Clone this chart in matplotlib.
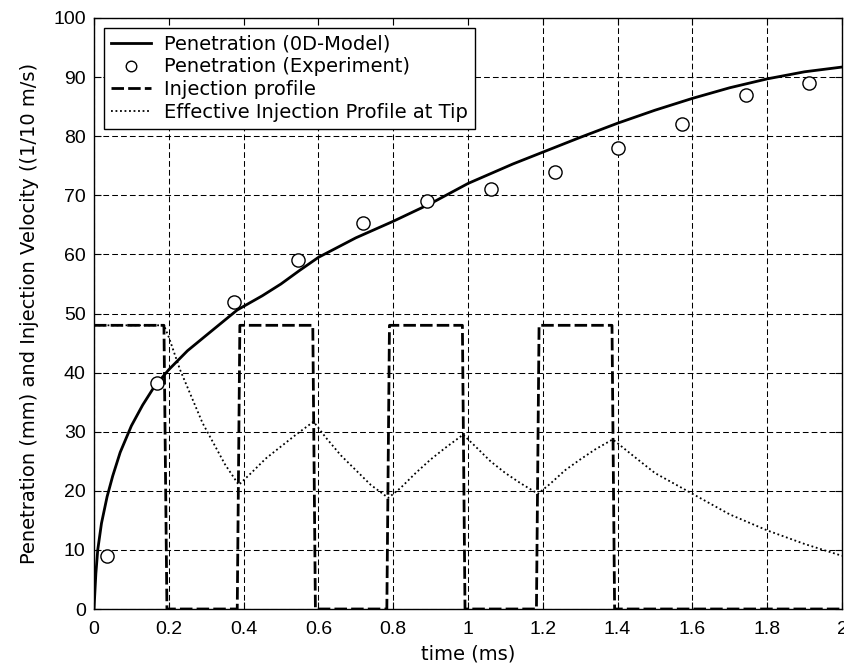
import matplotlib
matplotlib.use('Agg')
import matplotlib.pyplot as plt

plt.rcParams['font.family'] = ['DejaVu Sans']

# penetration, 0D model
model_t = [0, 0.005, 0.01, 0.02, 0.035, 0.05, 0.07, 0.1, 0.13, 0.16, 0.2, 0.25, 0.3, 0.383, 0.45,
           0.5, 0.55, 0.6, 0.7, 0.8, 0.9, 1.0, 1.12, 1.2, 1.3, 1.4, 1.5, 1.6, 1.7, 1.8, 1.9, 2.0]
model_v = [0, 6, 10, 14.5, 19, 22.5, 26.5, 31, 34.5, 37.5, 40.5, 43.7, 46.3, 50.6, 53,
           55, 57.3, 59.5, 62.8, 65.6, 68.6, 72, 75.3, 77.3, 79.8, 82.2, 84.4, 86.4, 88.2, 89.7, 90.9, 91.7]

# penetration, experiment
exp_t = [0.034, 0.168, 0.374, 0.545, 0.72, 0.891, 1.061, 1.232, 1.402, 1.572, 1.742, 1.912]
exp_v = [9, 38.2, 52, 59.1, 65.3, 69.1, 71, 74, 78, 82, 87, 89]

# injection profile
inj_t = [0, 0.187, 0.195, 0.383, 0.39, 0.585, 0.592, 0.783, 0.79, 0.985, 0.992, 1.183, 1.19, 1.385, 1.392, 2.0]
inj_v = [48, 48, 0, 0, 48, 48, 0, 0, 48, 48, 0, 0, 48, 48, 0, 0]

# effective injection profile at tip
eff_t = [0, 0.187, 0.2, 0.23, 0.26, 0.29, 0.32, 0.35, 0.387, 0.42, 0.46, 0.5, 0.54, 0.587,
         0.62, 0.66, 0.7, 0.74, 0.787, 0.82, 0.86, 0.9, 0.94, 0.987, 1.02, 1.06, 1.1, 1.14, 1.187,
         1.22, 1.26, 1.3, 1.34, 1.387, 1.45, 1.5, 1.6, 1.7, 1.8, 1.9, 2.0]
eff_v = [48, 48, 46, 40.5, 36, 31.5, 28, 24.5, 21, 23, 25.5, 27.5, 29.5, 31.7,
         29, 26, 23.5, 21, 18.8, 20.5, 23, 25.3, 27.3, 29.5, 27.5, 25, 23, 21.3, 19.5,
         21.2, 23.5, 25.3, 27, 28.7, 25.5, 23, 19.5, 16, 13.3, 11, 9]

xticks = [0, 0.2, 0.4, 0.6, 0.8, 1, 1.2, 1.4, 1.6, 1.8, 2]
xlabels = ['0', '0.2', '0.4', '0.6', '0.8', '1', '1.2', '1.4', '1.6', '1.8', '2']
yticks = list(range(0, 101, 10))

fig = plt.figure(figsize=(8.44, 6.70), dpi=100)
ax = fig.add_axes([94 / 844, 61 / 670, 748 / 844, 591 / 670])

ax.plot(model_t, model_v, color='black', lw=2, label='Penetration (0D-Model)')
ax.plot(exp_t, exp_v, 'o', mfc='white', mec='black', mew=1.0, ms=9.5, label='Penetration (Experiment)')
ax.plot(inj_t, inj_v, color='black', lw=2, ls=(0, (4.5, 1.5)), label='Injection profile')
ax.plot(eff_t, eff_v, color='black', lw=1.3, ls=(0, (1, 1.5)), label='Effective Injection Profile at Tip')

ax.set_xlim(0, 2)
ax.set_ylim(0, 100)
ax.set_xticks(xticks)
ax.set_xticklabels(xlabels)
ax.set_yticks(yticks)
ax.tick_params(direction='in', length=5, top=True, right=True, width=0.8)
ax.tick_params(axis='x', pad=9)
ax.tick_params(axis='y', pad=6)
for lab in ax.get_xticklabels() + ax.get_yticklabels():
    lab.set_family(['Liberation Sans', 'DejaVu Sans'])
    lab.set_fontsize(14)
ax.grid(True, color='black', ls=(0, (5.5, 3)), lw=0.75)
ax.set_axisbelow(True)
for s in ax.spines.values():
    s.set_linewidth(1.0)

ax.set_xlabel('time (ms)', fontsize=14, labelpad=4)
ax.set_ylabel('Penetration (mm) and Injection Velocity ((1/10 m/s)', fontsize=14, labelpad=10)

leg = ax.legend(loc='upper left', prop={'size': 14}, fancybox=False, edgecolor='black', framealpha=1,
                borderaxespad=0.5, handlelength=2.1, handletextpad=0.65, labelspacing=0.2,
                borderpad=0.35, markerscale=0.8)
leg.get_frame().set_linewidth(1.0)

plt.savefig('out.png', dpi=100)
